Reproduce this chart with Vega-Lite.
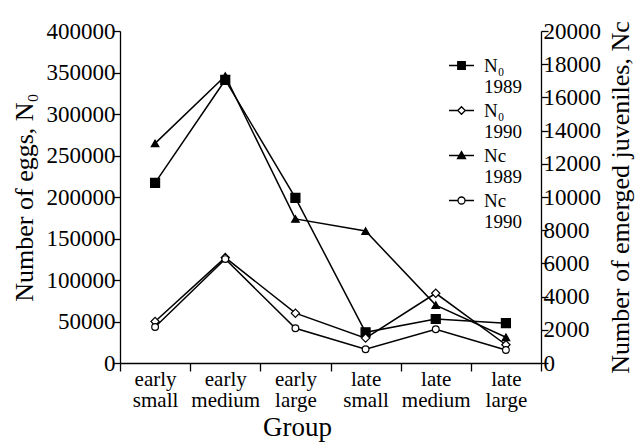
{
  "$schema": "https://vega.github.io/schema/vega-lite/v6.json",
  "autosize": "none",
  "width": 421,
  "height": 332,
  "padding": {"left": 120, "top": 31, "right": 97, "bottom": 81},
  "background": "white",
  "config": {
    "view": {"stroke": null},
    "font": "Liberation Serif",
    "axis": {
      "grid": false,
      "domainColor": "black",
      "domainWidth": 1.3,
      "tickColor": "black",
      "tickWidth": 1.3,
      "labelColor": "black",
      "titleColor": "black",
      "titleFontWeight": "normal",
      "labelFont": "Liberation Serif",
      "titleFont": "Liberation Serif"
    }
  },
  "datasets": {
    "main": [
      {"group": "early small", "series": "N₀|1989", "measure": "N0", "value": 217000},
      {"group": "early medium", "series": "N₀|1989", "measure": "N0", "value": 341000},
      {"group": "early large", "series": "N₀|1989", "measure": "N0", "value": 199000},
      {"group": "late small", "series": "N₀|1989", "measure": "N0", "value": 37000},
      {"group": "late medium", "series": "N₀|1989", "measure": "N0", "value": 53000},
      {"group": "late large", "series": "N₀|1989", "measure": "N0", "value": 48000},
      {"group": "early small", "series": "N₀|1990", "measure": "N0", "value": 50000},
      {"group": "early medium", "series": "N₀|1990", "measure": "N0", "value": 127000},
      {"group": "early large", "series": "N₀|1990", "measure": "N0", "value": 60000},
      {"group": "late small", "series": "N₀|1990", "measure": "N0", "value": 30000},
      {"group": "late medium", "series": "N₀|1990", "measure": "N0", "value": 84000},
      {"group": "late large", "series": "N₀|1990", "measure": "N0", "value": 22000},
      {"group": "early small", "series": "Nc|1989", "measure": "Nc", "value": 13230},
      {"group": "early medium", "series": "Nc|1989", "measure": "Nc", "value": 17290},
      {"group": "early large", "series": "Nc|1989", "measure": "Nc", "value": 8680},
      {"group": "late small", "series": "Nc|1989", "measure": "Nc", "value": 7950},
      {"group": "late medium", "series": "Nc|1989", "measure": "Nc", "value": 3490},
      {"group": "late large", "series": "Nc|1989", "measure": "Nc", "value": 1550},
      {"group": "early small", "series": "Nc|1990", "measure": "Nc", "value": 2170},
      {"group": "early medium", "series": "Nc|1990", "measure": "Nc", "value": 6260},
      {"group": "early large", "series": "Nc|1990", "measure": "Nc", "value": 2090},
      {"group": "late small", "series": "Nc|1990", "measure": "Nc", "value": 830},
      {"group": "late medium", "series": "Nc|1990", "measure": "Nc", "value": 2030},
      {"group": "late large", "series": "Nc|1990", "measure": "Nc", "value": 780}
    ]
  },
  "data": {"name": "main"},
  "encoding": {
    "x": {
      "field": "group",
      "type": "nominal",
      "bandPosition": 0.5,
      "sort": ["early small", "early medium", "early large", "late small", "late medium", "late large"],
      "scale": {"type": "band", "paddingInner": 0, "paddingOuter": 0},
      "axis": {
        "title": "Group",
        "titleFontSize": 27,
        "titlePadding": 4,
        "titleX": 177,
        "titleAlign": "center",
        "labelFontSize": 21,
        "labelLineHeight": 21,
        "labelAngle": 0,
        "labelExpr": "split(datum.label, ' ')",
        "tickBand": "extent",
        "tickSize": 8,
        "labelPadding": -3,
        "encode": {"ticks": {"update": {"y2": {"value": -8}}}}
      }
    }
  },
  "layer": [
    {
      "transform": [{"filter": "datum.measure === 'N0'"}],
      "encoding": {
        "y": {
          "field": "value",
          "type": "quantitative",
          "scale": {"domain": [0, 400000], "nice": false},
          "axis": {
            "orient": "left",
            "title": "Number of eggs, N₀",
            "titleFontSize": 26,
            "titlePadding": 9,
            "values": [0, 50000, 100000, 150000, 200000, 250000, 300000, 350000, 400000],
            "format": "d",
            "labelFontSize": 23,
            "tickSize": 7,
            "labelPadding": -2,
            "encode": {"ticks": {"update": {"x2": {"value": 7}}}}
          }
        }
      },
      "layer": [
        {
          "mark": {"type": "line", "color": "black", "strokeWidth": 1.5},
          "encoding": {"detail": {"field": "series"}}
        },
        {
          "mark": {"type": "point", "filled": true, "stroke": "black", "strokeWidth": 1.2, "opacity": 1},
          "encoding": {
            "shape": {"field": "series", "scale": {"domain": ["N₀|1989", "N₀|1990"], "range": ["square", "diamond"]}, "legend": null},
            "fill": {"field": "series", "scale": {"domain": ["N₀|1989", "N₀|1990"], "range": ["black", "white"]}, "legend": null},
            "size": {"field": "series", "scale": {"domain": ["N₀|1989", "N₀|1990", "Nc|1989", "Nc|1990"], "range": [81, 45, 75, 60]}, "legend": null}
          }
        }
      ]
    },
    {
      "transform": [{"filter": "datum.measure === 'Nc'"}],
      "encoding": {
        "y": {
          "field": "value",
          "type": "quantitative",
          "scale": {"domain": [0, 20000], "nice": false},
          "axis": {
            "orient": "right",
            "title": "Number of emerged juveniles, Nc",
            "titleAngle": 270,
            "titleFontSize": 26,
            "titlePadding": 33,
            "values": [0, 2000, 4000, 6000, 8000, 10000, 12000, 14000, 16000, 18000, 20000],
            "format": "d",
            "labelFontSize": 23,
            "tickSize": 7,
            "labelPadding": -5,
            "encode": {"ticks": {"update": {"x2": {"value": -7}}}}
          }
        }
      },
      "layer": [
        {
          "mark": {"type": "line", "color": "black", "strokeWidth": 1.5},
          "encoding": {"detail": {"field": "series"}}
        },
        {
          "mark": {"type": "point", "filled": true, "stroke": "black", "strokeWidth": 1.2, "opacity": 1},
          "encoding": {
            "shape": {"field": "series", "scale": {"domain": ["Nc|1989", "Nc|1990"], "range": ["triangle-up", "circle"]}, "legend": null},
            "fill": {"field": "series", "scale": {"domain": ["Nc|1989", "Nc|1990"], "range": ["black", "white"]}, "legend": null},
            "size": {"field": "series", "scale": {"domain": ["N₀|1989", "N₀|1990", "Nc|1989", "Nc|1990"], "range": [81, 45, 75, 60]}, "legend": null}
          }
        }
      ]
    },
    {
      "transform": [{"filter": "datum.group === 'early small'"}],
      "mark": {"type": "point", "filled": true, "stroke": "black", "strokeWidth": 1.3, "opacity": 0},
      "encoding": {
        "shape": {
          "field": "series",
          "scale": {
            "domain": ["N₀|1989", "N₀|1990", "Nc|1989", "Nc|1990"],
            "range": [
              "M-1,0H-0.3M0.3,0H1M-0.3,-0.3H0.3V0.3H-0.3Z",
              "M-1,0H-0.3M0.3,0H1M-0.3,0L0,-0.3L0.3,0L0,0.3Z",
              "M-1,0H1M-0.32,0.24L0,-0.32L0.32,0.24Z",
              "M-1,0H-0.28M0.28,0H1M-0.28,0A0.28,0.28 0 1,0 0.28,0A0.28,0.28 0 1,0 -0.28,0Z"
            ]
          },
          "legend": {
            "orient": "none",
            "legendX": 328,
            "legendY": 21,
            "padding": 0,
            "title": null,
            "symbolSize": 625,
            "symbolOpacity": 1,
            "symbolStrokeWidth": 1.3,
            "symbolStrokeColor": "black",
            "labelExpr": "split(datum.label, '|')",
            "labelFont": "Liberation Serif",
            "labelFontSize": 19,
            "labelLineHeight": 18,
            "labelColor": "black",
            "labelOffset": 9,
            "rowPadding": -2,
            "encode": {"symbols": {"update": {"stroke": {"value": "black"}, "strokeWidth": {"value": 1.3}, "opacity": {"value": 1}, "strokeOpacity": {"value": 1}, "fillOpacity": {"value": 1}}}}
          }
        },
        "fill": {
          "field": "series",
          "scale": {"domain": ["N₀|1989", "N₀|1990", "Nc|1989", "Nc|1990"], "range": ["black", "white", "black", "white"]},
          "legend": {
            "orient": "none",
            "legendX": 328,
            "legendY": 21,
            "padding": 0,
            "title": null,
            "symbolSize": 625,
            "symbolOpacity": 1,
            "symbolStrokeWidth": 1.3,
            "symbolStrokeColor": "black",
            "labelExpr": "split(datum.label, '|')",
            "labelFont": "Liberation Serif",
            "labelFontSize": 19,
            "labelLineHeight": 18,
            "labelColor": "black",
            "labelOffset": 9,
            "rowPadding": -2,
            "encode": {"symbols": {"update": {"stroke": {"value": "black"}, "strokeWidth": {"value": 1.3}, "opacity": {"value": 1}, "strokeOpacity": {"value": 1}, "fillOpacity": {"value": 1}}}}
          }
        }
      }
    }
  ],
  "resolve": {"scale": {"y": "independent", "shape": "independent", "fill": "independent"}}
}
